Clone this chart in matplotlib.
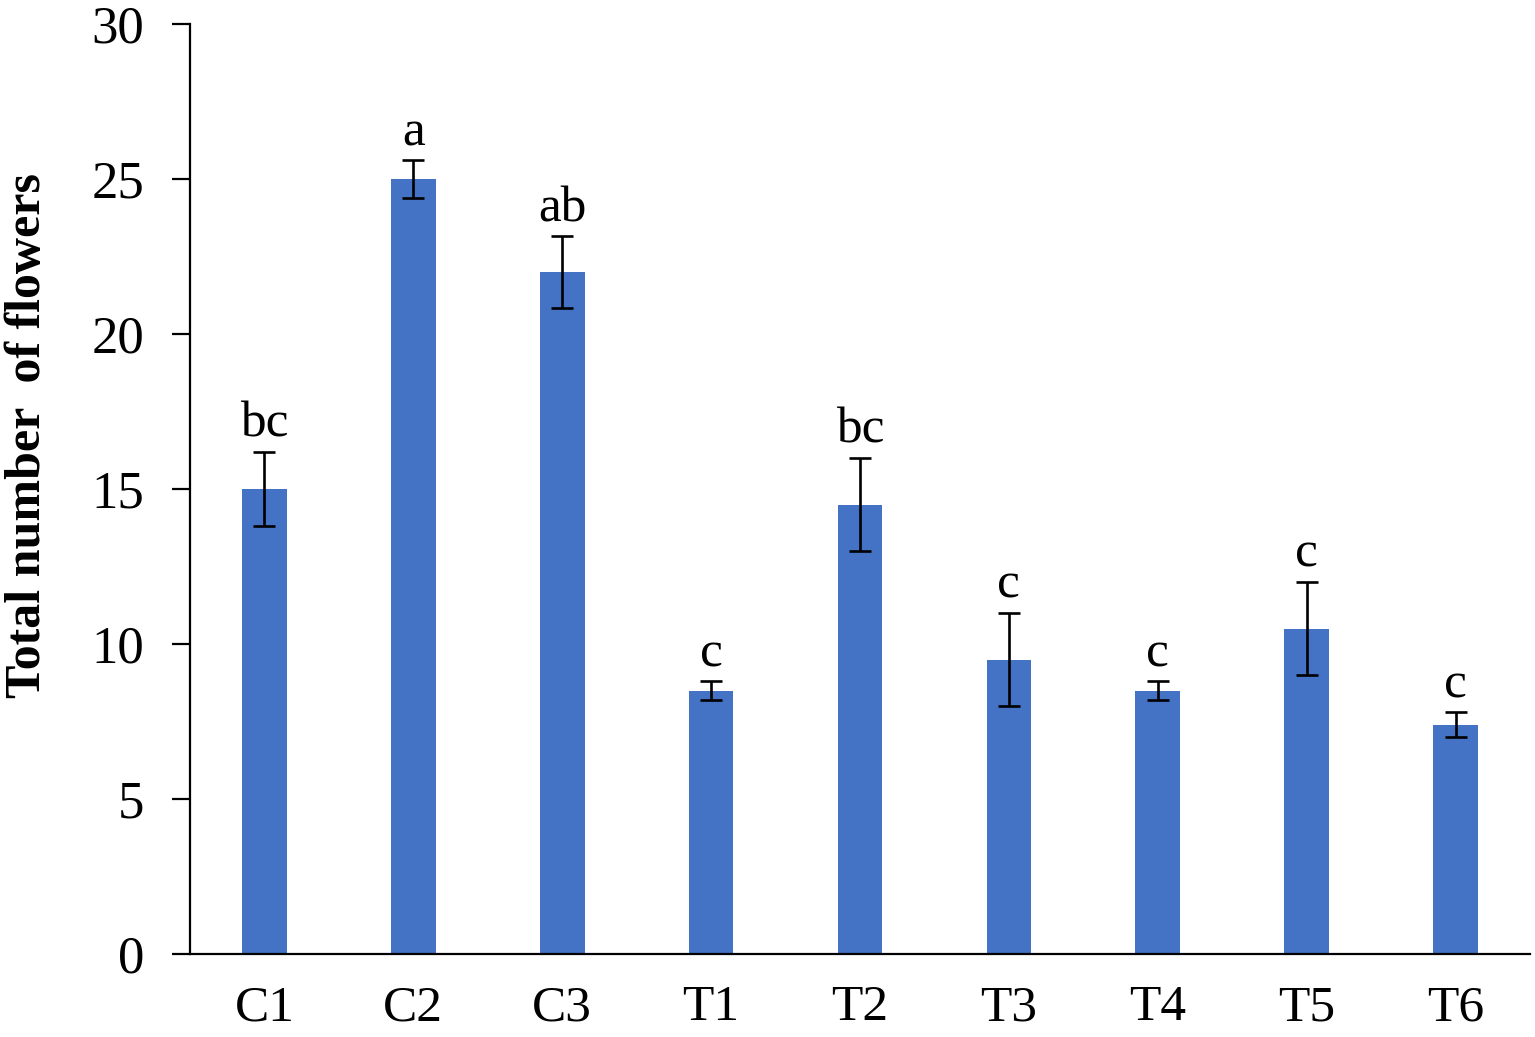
import matplotlib
matplotlib.use("Agg")
import matplotlib.pyplot as plt

# data
groups = ["C1", "C2", "C3", "T1", "T2", "T3", "T4", "T5", "T6"]
means = [15.0, 25.0, 22.0, 8.5, 14.5, 9.5, 8.5, 10.5, 7.4]
errors = [1.2, 0.6, 1.15, 0.3, 1.5, 1.5, 0.3, 1.5, 0.4]
letters = ["bc", "a", "ab", "c", "bc", "c", "c", "c", "c"]

plt.rcParams['font.family'] = ['Liberation Serif', 'DejaVu Serif']

fig = plt.figure(figsize=(15.35, 10.37), dpi=100)
ax = fig.add_axes([190 / 1535, 83 / 1037, 1340 / 1535, 930 / 1037])

x = list(range(len(groups)))
ax.bar(x, means, width=0.3, color="#4472C4", zorder=2)
ax.errorbar(x, means, yerr=errors, fmt="none", ecolor="black",
            elinewidth=1.9, capsize=8, capthick=1.9, zorder=3)

for xi, m, e, lab in zip(x, means, errors, letters):
    ax.annotate(lab, (xi, m + e), xytext=(0, 3), textcoords="offset points",
                ha="center", va="bottom", fontsize=37)

ax.set_xlim(-0.5, len(groups) - 0.5)
ax.set_ylim(0, 30)
ax.set_yticks([0, 5, 10, 15, 20, 25, 30])
ax.set_xticks(x)
ax.set_xticklabels(groups)

for s in ["top", "right"]:
    ax.spines[s].set_visible(False)
for s in ["left", "bottom"]:
    ax.spines[s].set_linewidth(1.6)

ax.tick_params(axis="y", direction="out", length=13, width=1.6, pad=20, labelsize=38)
ax.tick_params(axis="x", length=0, pad=22, labelsize=37)

ax.set_ylabel("Total number  of flowers", fontsize=36, fontweight="bold")
ax.yaxis.set_label_coords(-0.104, 0.558)

fig.savefig("out.png", dpi=100)
